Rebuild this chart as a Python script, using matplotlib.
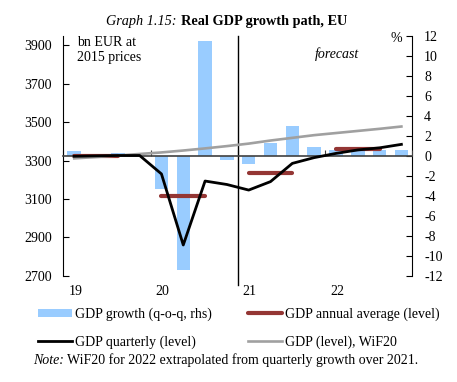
import matplotlib
matplotlib.use("Agg")
from matplotlib import pyplot as plt

plt.rcParams['font.family'] = ['Liberation Serif', 'DejaVu Serif']
plt.rcParams['axes.unicode_minus'] = False

# quarters 2019Q1 .. 2022Q4
quarters = list(range(16))
growth_qoq = [0.5, 0.2, 0.3, 0.0, -3.3, -11.4, 11.5, -0.4,
              -0.8, 1.3, 3.0, 0.9, 0.6, 0.6, 0.6, 0.6]
gdp_quarterly = [3322, 3324, 3326, 3326, 3230, 2860, 3193, 3175,
                 3146, 3190, 3285, 3315, 3337, 3355, 3366, 3384]
gdp_wif20 = [3311, 3318, 3326, 3334, 3342, 3352, 3363, 3375,
             3388, 3404, 3418, 3432, 3443, 3454, 3465, 3477]
years = ['19', '20', '21', '22']
annual_avg = [3322, 3117, 3237, 3358]

fig = plt.figure(figsize=(4.57, 3.82), dpi=100)
ax = fig.add_axes([63.3 / 457, 1 - 275.7 / 382, 349 / 457, 240 / 382])
ax2 = ax.twinx()
ax.set_zorder(ax2.get_zorder() + 1)
ax.patch.set_visible(False)

# bars on the right axis
xc = [q + 0.5 for q in quarters]
ax2.bar(xc, growth_qoq, width=0.62, color='#99CCFF', zorder=1,
        label='GDP growth (q-o-q, rhs)')
ax2.set_ylim(-12, 12)
ax2.set_yticks(range(-12, 13, 2))
ax2.tick_params(axis='y', direction='in', length=4, width=0.8, pad=8.5,
                labelsize=10)
for s in ['left', 'top', 'bottom']:
    ax2.spines[s].set_visible(False)
ax2.spines['right'].set_linewidth(0.8)

# levels on the left axis
for i, v in enumerate(annual_avg):
    ax.plot([4 * i + 0.5, 4 * i + 2.5], [v, v], color='#943634', lw=3.0,
            solid_capstyle='round', zorder=2,
            label='GDP annual average (level)' if i == 0 else None)
ax.plot(xc, gdp_wif20, color='#A0A0A0', lw=1.9, zorder=3,
        label='GDP (level), WiF20')
ax.plot(xc, gdp_quarterly, color='black', lw=2.0, zorder=4,
        label='GDP quarterly (level)')

ax.set_xlim(0, 16)
ax.set_ylim(2700, 3950)
ax.set_yticks(range(2700, 3901, 200))
ax.tick_params(axis='y', direction='in', length=4, width=0.8, pad=8.3,
               labelsize=10)
ax.spines['top'].set_visible(False)
ax.spines['right'].set_visible(False)
ax.spines['left'].set_linewidth(0.8)
ax.spines['bottom'].set_position(('data', 3325))
ax.spines['bottom'].set_color('#404040')
ax.spines['bottom'].set_linewidth(1.2)
ax.set_xticks([0, 4, 8, 12, 16])
ax.tick_params(axis='x', direction='in', length=4, width=0.8,
               labelbottom=False, color='#404040')

ax.axvline(8, ymin=-0.04, ymax=1, color='black', lw=1.0, clip_on=False)

for i, y in enumerate(years):
    ax.text(4 * i + 0.55, -0.067, y, transform=ax.get_xaxis_transform(),
            ha='center', va='center', fontsize=10)

ax.text(0.039, 0.997, 'bn EUR at\n2015 prices', transform=ax.transAxes,
        ha='left', va='top', fontsize=10, linespacing=1.12)
ax.text(0.783, 0.925, 'forecast', transform=ax.transAxes, ha='center',
        va='center', fontsize=10, style='italic')
ax.text(0.955, 0.99, '%', transform=ax.transAxes, ha='center',
        va='center', fontsize=10)

# title
fig.text(177 / 457, 1 - 21 / 382, 'Graph 1.15:', ha='right', va='center',
         fontsize=10.3, style='italic')
fig.text(181 / 457, 1 - 21 / 382, 'Real GDP growth path, EU', ha='left',
         va='center', fontsize=10.3, weight='bold')

# legend
h1, l1 = ax2.get_legend_handles_labels()
h2, l2 = ax.get_legend_handles_labels()
hd = dict(zip(l1 + l2, h1 + h2))
order = ['GDP growth (q-o-q, rhs)', 'GDP quarterly (level)',
         'GDP annual average (level)', 'GDP (level), WiF20']
leg = fig.legend([hd[k] for k in order], order, ncol=2,
                 loc='upper left', bbox_to_anchor=(28 / 457, 1 - 298 / 382),
                 frameon=False, fontsize=10, handlelength=2.45,
                 handleheight=0.55, handletextpad=0.25, columnspacing=2.55,
                 labelspacing=1.0, borderpad=0.2)

# note
fig.text(33 / 457, 1 - 360 / 382, 'Note:', ha='left', va='center',
         fontsize=10, style='italic')
fig.text(67 / 457, 1 - 360 / 382,
         'WiF20 for 2022 extrapolated from quarterly growth over 2021.',
         ha='left', va='center', fontsize=10)

fig.savefig('out.png', dpi=100)
